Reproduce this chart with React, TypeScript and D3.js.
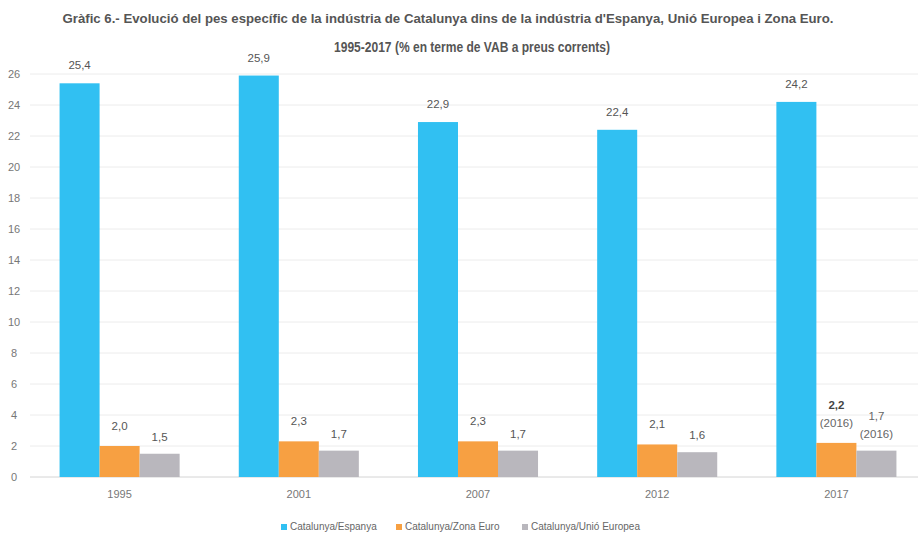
import React, { useRef, useEffect } from 'react';
import * as d3 from 'd3';

// Data
const years = ['1995', '2001', '2007', '2012', '2017'];
const seriesNames = ['Catalunya/Espanya', 'Catalunya/Zona Euro', 'Catalunya/Unió Europea'];
const espanya = [25.4, 25.9, 22.9, 22.4, 24.2];
const zonaEuro = [2.0, 2.3, 2.3, 2.1, 2.2];
const unioEuropea = [1.5, 1.7, 1.7, 1.6, 1.7];
const yTicks = [0, 2, 4, 6, 8, 10, 12, 14, 16, 18, 20, 22, 24, 26];
// extra note under some labels
const labelNotes: Record<string, string[]> = { '2017': ['(2016)', '(2016)'] };

const colors = ['#31c0f2', '#f7a042', '#b9b7bd'];
const FONT = '"Liberation Sans Narrow", "Liberation Sans", sans-serif';

const App = () => {
  const svgRef = useRef<SVGSVGElement | null>(null);
  const width = 921;
  const height = 539;

  useEffect(() => {
    if (!svgRef.current) return;
    const svg = d3.select(svgRef.current);
    svg.selectAll('*').remove();

    const margin = { left: 30, right: 0, top: 74, bottom: 62 };
    const y = d3.scaleLinear().domain([0, 26]).range([height - margin.bottom, margin.top]);
    const x = d3.scaleBand<string>()
      .domain(years)
      .range([margin.left, 926])
      .paddingInner(0.33)
      .paddingOuter(0.165);
    const xs = d3.scaleBand<number>().domain([0, 1, 2]).range([0, x.bandwidth()]);

    svg.append('rect').attr('width', width).attr('height', height).attr('fill', '#fff');

    // Title
    const title = svg.append('g').attr('font-family', FONT).attr('font-weight', 'bold').attr('fill', '#555');
    title.append('text')
      .attr('x', 448).attr('y', 23)
      .attr('text-anchor', 'middle')
      .attr('font-size', 13.5)
      .attr('textLength', 771).attr('lengthAdjust', 'spacingAndGlyphs')
      .text("Gràfic 6.- Evolució del pes específic de la indústria de Catalunya dins de la indústria d'Espanya, Unió Europea i Zona Euro.");
    title.append('text')
      .attr('x', 472).attr('y', 52)
      .attr('text-anchor', 'middle')
      .attr('font-size', 14)
      .attr('textLength', 276).attr('lengthAdjust', 'spacingAndGlyphs')
      .text('1995-2017 (% en terme de VAB a preus corrents)');

    // Gridlines + y axis labels
    const grid = svg.append('g');
    grid.selectAll('line')
      .data(yTicks)
      .enter()
      .append('line')
      .attr('x1', margin.left).attr('x2', 918)
      .attr('y1', d => y(d)).attr('y2', d => y(d))
      .attr('stroke', d => (d === 0 ? '#d4d4d4' : '#ececec'))
      .attr('stroke-width', 1);
    grid.selectAll('text')
      .data(yTicks)
      .enter()
      .append('text')
      .attr('x', 14).attr('y', d => y(d) + 4)
      .attr('text-anchor', 'middle')
      .attr('font-family', FONT)
      .attr('font-size', 11)
      .attr('fill', '#777')
      .text(d => d);

    // Bars
    const all = [espanya, zonaEuro, unioEuropea];
    const groups = svg.append('g').selectAll('g')
      .data(years)
      .enter()
      .append('g')
      .attr('transform', d => `translate(${x(d)},0)`);

    groups.selectAll('rect')
      .data((yr, i) => all.map((s, k) => ({ k, v: s[i], yr })))
      .enter()
      .append('rect')
      .attr('x', d => xs(d.k)!)
      .attr('y', d => y(d.v))
      .attr('width', xs.bandwidth())
      .attr('height', d => y(0) - y(d.v))
      .attr('fill', d => colors[d.k]);

    // Value labels
    const fmt = (v: number) => v.toFixed(1).replace('.', ',');
    groups.each(function (yr, i) {
      const g = d3.select(this);
      all.forEach((s, k) => {
        const v = s[i];
        const cx = xs(k)! + xs.bandwidth() / 2;
        const notes = labelNotes[yr];
        const note = notes && k > 0 ? notes[k - 1] : null;
        const off = k === 0 ? 14 : k === 1 ? 16 : 13;
        if (note) {
          g.append('text')
            .attr('x', cx).attr('y', y(v) - off)
            .attr('text-anchor', 'middle')
            .attr('font-family', FONT).attr('font-size', 11.5)
            .attr('fill', '#666')
            .text(note);
          g.append('text')
            .attr('x', cx).attr('y', y(v) - off - 18)
            .attr('text-anchor', 'middle')
            .attr('font-family', FONT).attr('font-size', 11.5)
            .attr('font-weight', k === 1 ? 'bold' : 'normal')
            .attr('fill', k === 1 ? '#444' : '#666')
            .text(fmt(v));
        } else {
          g.append('text')
            .attr('x', cx).attr('y', y(v) - off)
            .attr('text-anchor', 'middle')
            .attr('font-family', FONT).attr('font-size', 11.5)
            .attr('fill', '#555')
            .text(fmt(v));
        }
      });
    });

    // X labels
    svg.append('g').selectAll('text')
      .data(years)
      .enter()
      .append('text')
      .attr('x', d => x(d)! + x.bandwidth() / 2)
      .attr('y', y(0) + 21)
      .attr('text-anchor', 'middle')
      .attr('font-family', FONT).attr('font-size', 11)
      .attr('fill', '#777')
      .text(d => d);

    // Legend
    const legendX = [281, 396, 522];
    const legend = svg.append('g').selectAll('g')
      .data(seriesNames)
      .enter()
      .append('g')
      .attr('transform', (d, i) => `translate(${legendX[i]},${530})`);
    legend.append('rect')
      .attr('x', 0).attr('y', -6).attr('width', 6).attr('height', 6)
      .attr('fill', (d, i) => colors[i]);
    legend.append('text')
      .attr('x', 9).attr('y', 0)
      .attr('font-family', FONT).attr('font-size', 10)
      .attr('fill', '#666')
      .text(d => d);
  }, []);

  return (
    <svg
      ref={svgRef}
      width={width}
      height={height}
      style={{ position: 'absolute', left: 0, top: 0, display: 'block' }}
    />
  );
};

export default App;
